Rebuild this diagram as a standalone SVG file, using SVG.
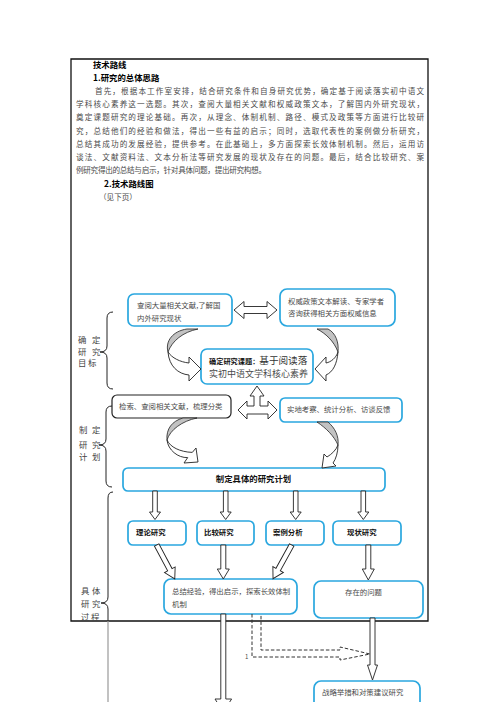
<svg xmlns="http://www.w3.org/2000/svg" width="496" height="702" viewBox="0 0 496 702">
<style>
text{font-family:"Noto Sans CJK SC","Noto Sans",sans-serif;fill:#4a4a4a}
.h{font-weight:bold;fill:#000;font-size:8.4px}
.b{font-size:7.6px}
.n{font-size:7.4px}
.lb{font-size:8.4px;fill:#444}
.bx{fill:#fff;stroke:#2aa7df;stroke-width:1.7}
.bk{fill:#fff;stroke:#222;stroke-width:1.2}
.ar{fill:#fff;stroke:#222;stroke-width:0.9;stroke-linejoin:miter}
.cr{fill:#c2c2c2;stroke:#222;stroke-width:0.8}
.br{fill:none;stroke:#222;stroke-width:1}
.bt{font-weight:bold;fill:#111}
</style>
<rect width="496" height="702" fill="#fff"/>
<g id="frame">
<path d="M71,59 H428 V621 H71 Z" fill="none" stroke="#111" stroke-width="1.3"/>
</g>
<g id="intro">
<text class="h" x="93" y="68">技术路线</text>
<text class="h" x="93" y="81">1.研究的总体思路</text>
<text class="b" x="95" y="94" textLength="329" lengthAdjust="spacing">首先，根据本工作室安排，结合研究条件和自身研究优势，确定基于阅读落实初中语文</text>
<text class="b" x="76" y="107" textLength="348" lengthAdjust="spacing">学科核心素养这一选题。其次，查阅大量相关文献和权威政策文本，了解国内外研究现状，</text>
<text class="b" x="76" y="120" textLength="348" lengthAdjust="spacing">奠定课题研究的理论基础。再次，从理念、体制机制、路径、模式及政策等方面进行比较研</text>
<text class="b" x="76" y="134" textLength="348" lengthAdjust="spacing">究，总结他们的经验和做法，得出一些有益的启示；同时，选取代表性的案例做分析研究，</text>
<text class="b" x="76" y="147" textLength="348" lengthAdjust="spacing">总结其成功的发展经验，提供参考。在此基础上，多方面探索长效体制机制。然后，运用访</text>
<text class="b" x="76" y="160" textLength="348" lengthAdjust="spacing">谈法、文献资料法、文本分析法等研究发展的现状及存在的问题。最后，结合比较研究、案</text>
<text class="b" x="76" y="173" textLength="190" lengthAdjust="spacing">例研究得出的总结与启示，针对具体问题，提出研究构想。</text>
<text class="h" x="104" y="187">2.技术路线图</text>
<text class="b" x="99" y="200">（见下页）</text>
</g>
<g id="labels">
<path class="br" d="M113,312 Q107,312 107,318 V346 Q107,352 100,352 Q107,352 107,358 V383 Q107,389 113,389"/>
<text class="lb" x="78 92" y="343">确定</text>
<text class="lb" x="78 92" y="355">研究</text>
<text class="lb" x="78 88" y="366">目标</text>
<path class="br" d="M112,406 Q106,406 106,412 V439 Q106,445 99,445 Q106,445 106,451 V481 Q106,487 112,487"/>
<text class="lb" x="79 92" y="433">制定</text>
<text class="lb" x="79 92" y="448">研究</text>
<text class="lb" x="79 92" y="460">计划</text>
<path class="br" d="M113,492 Q108,492 108,498 V597 Q108,603 101,603 Q108,603 108,609 V621"/>
<path d="M108,621 V702" fill="none" stroke="#999" stroke-width="1.2"/>
<text class="lb" x="81 92" y="594">具体</text>
<text class="lb" x="81 92" y="607">研究</text>
<text class="lb" x="81 91" y="620">过程</text>
</g>
<g id="nodeA">
<rect class="bx" x="128" y="294" width="104" height="32" rx="6"/>
<text class="n" x="137" y="308">查阅大量相关文献,了解国</text>
<text class="n" x="137" y="321">内外研究现状</text>
</g>
<g id="nodeB">
<rect class="bx" x="280" y="289" width="115" height="37" rx="7"/>
<text class="n" x="288" y="304">权威政策文本解读、专家学者</text>
<text class="n" x="288" y="316">咨询获得相关方面权威信息</text>
</g>
<g id="nodeC">
<rect class="bx" x="201" y="349" width="112" height="35" rx="6"/>
<text x="209" y="364"><tspan class="bt" font-size="7.2">确定研究课题：</tspan><tspan font-size="9.6" fill="#333">基于阅读落</tspan></text>
<text x="209" y="377" font-size="9" fill="#333">实初中语文学科核心素养</text>
</g>
<g id="nodeD">
<rect class="bk" x="112" y="395" width="119" height="23" rx="5"/>
<text class="n" x="119" y="409">检索、查阅相关文献，梳理分类</text>
</g>
<g id="nodeE">
<rect class="bx" x="280" y="398" width="122" height="24" rx="5"/>
<text class="n" x="287" y="412">实地考察、统计分析、访谈反馈</text>
</g>
<g id="nodeF">
<rect class="bx" x="123" y="468" width="262" height="23" rx="5"/>
<text class="bt" x="253.5" y="482" font-size="8.4" text-anchor="middle">制定具体的研究计划</text>
</g>
<g id="nodeG1">
<rect class="bx" x="128" y="521" width="58" height="24" rx="5"/>
<text class="bt" x="136" y="535" font-size="7.4">理论研究</text>
</g>
<g id="nodeG2">
<rect class="bx" x="197" y="521" width="57" height="24" rx="5"/>
<text class="bt" x="204" y="535" font-size="7.4">比较研究</text>
</g>
<g id="nodeG3">
<rect class="bx" x="266" y="521" width="58" height="24" rx="5"/>
<text class="bt" x="273" y="535" font-size="7.4">案例分析</text>
</g>
<g id="nodeG4">
<rect class="bx" x="333" y="521" width="68" height="24" rx="5"/>
<text class="bt" x="347" y="535" font-size="7.4">现状研究</text>
</g>
<g id="nodeH">
<rect class="bx" x="164" y="579" width="133" height="35" rx="7"/>
<text class="n" x="172" y="594">总结经验，得出启示，探索长效体制</text>
<text class="n" x="172" y="607">机制</text>
</g>
<g id="nodeI">
<rect class="bx" x="314" y="581" width="109" height="37" rx="7"/>
<text class="n" x="345" y="595">存在的问题</text>
</g>
<g id="nodeJ">
<rect class="bx" x="314" y="681" width="106" height="30" rx="7"/>
<text class="n" x="322" y="695">战略举措和对策建议研究</text>
</g>
<g id="connectors">
<path class="ar" d="M234,310 L244,301.5 L244,306.5 L267,306.5 L267,301.5 L277,310 L267,318.5 L267,313.5 L244,313.5 L244,318.5 Z"/>
<path class="cr" d="M187,329 L198,329 C183,332 172,341 168,352 C165,341 173,331 187,329 Z"/>
<path class="ar" d="M168,352 C169,366 178,374 189,375 L189,381 L201,369 L189,357 L189,363 C180,362 172,358 168,352 Z"/>
<path class="cr" d="M317,329 L328,329 C336,333 339,343 338,352 C334,341 325,333 317,329 Z"/>
<path class="ar" d="M338,352 C337,364 333,372 326,375 L326,381 L315,369 L326,357 L326,363 C331,362 336,358 338,352 Z"/>
<path class="ar" d="M257,386 L264,396 L260,396 L260,406 L268,406 L268,401 L277,410 L268,419 L268,414 L247,414 L247,419 L238,410 L247,401 L247,406 L254,406 L254,396 L250,396 Z"/>
<path class="cr" d="M183,418 L197,418 C182,421 170,430 167,440 C166,429 172,421 183,418 Z"/>
<path class="ar" d="M167,440 C168,450 178,458 187.7,457.6 L184,463 L198,462 L196,448 L192.3,452.4 C180,452 170,447 167,440 Z"/>
<path class="cr" d="M317,422 L328,422 C335,428 339,436 338,445 C334,436 326,428 317,422 Z"/>
<path class="ar" d="M338,445 C338,452 336,459 333,463 L336,466 L322,468 L324,454 L327,457 C332,454 336,450 338,445 Z"/>
<path class="ar" d="M152.7,491 V512 H149.5 L155,519.5 L160.5,512 H157.3 V491 Z"/>
<path class="ar" d="M223.4,491 V512 H220.2 L225.7,519.5 L231.2,512 H228 V491 Z"/>
<path class="ar" d="M293.4,491 V512 H290.2 L295.7,519.5 L301.2,512 H298 V491 Z"/>
<path class="ar" d="M361,491 V512 H357.8 L363.3,519.5 L368.8,512 H365.6 V491 Z"/>
<path class="ar" transform="translate(156.7,545) rotate(-28)" d="M-2.5,0 V28 H-6 L0,38.5 L6,28 H2.5 V0 Z"/>
<path class="ar" d="M220.8,545 V569 H217.3 L223.3,579 L229.3,569 H225.8 V545 Z"/>
<path class="ar" transform="translate(291.7,545) rotate(29)" d="M-2.5,0 V28 H-6 L0,38.5 L6,28 H2.5 V0 Z"/>
<path class="ar" d="M365.8,545 V569 H362.3 L368.3,580 L374.3,569 H370.8 V545 Z"/>
<path class="ar" d="M370,618 V665 H367.5 L372.5,680 L377.5,665 H375 V618 Z"/>
<path class="ar" d="M220.8,614 V699 H215 L223.3,712 L231.6,699 H225.8 V614 Z"/>
<path d="M252,614 V657 H340 V660 L370,654 L340,647 V650 H261 V614" fill="none" stroke="#333" stroke-width="1" stroke-dasharray="3.5,2"/>
<text x="245" y="658.5" font-size="6" fill="#222">1</text>
</g>
</svg>
